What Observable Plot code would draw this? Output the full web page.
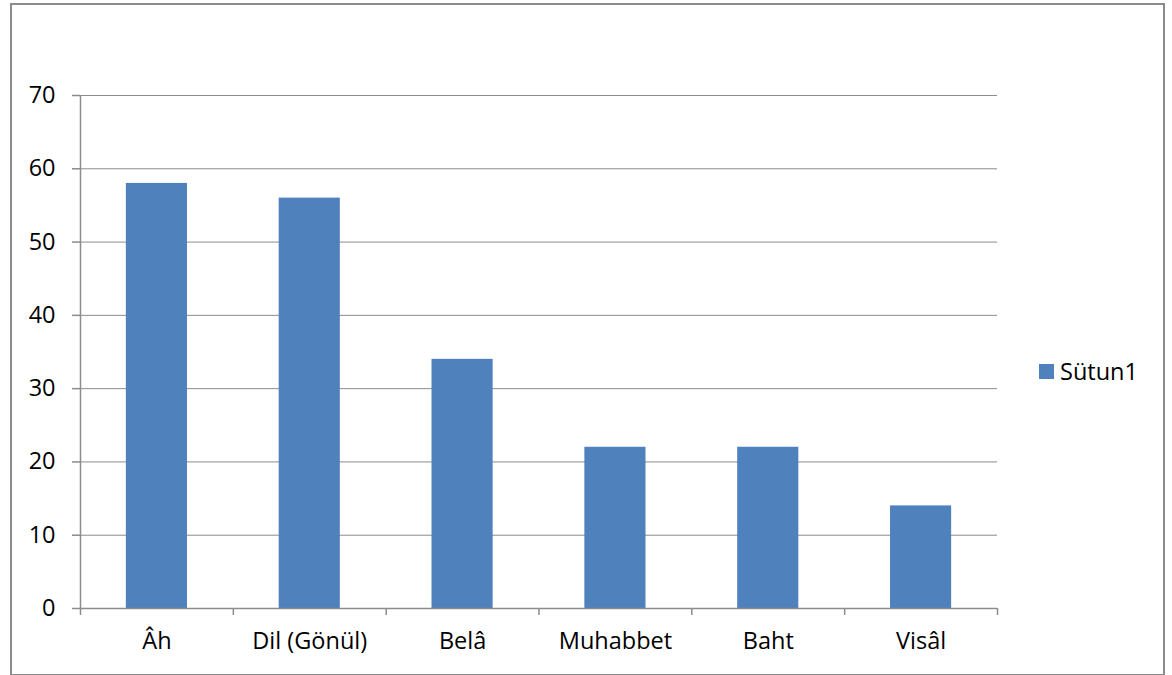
<!DOCTYPE html>
<html>
<head>
<meta charset="utf-8">
<script src="https://cdn.jsdelivr.net/npm/d3@7"></script>
<script src="https://cdn.jsdelivr.net/npm/@observablehq/plot@0.6"></script>
<style>
  html, body { margin: 0; padding: 0; background: #fff; }
  #wrap { position: relative; width: 1172px; height: 675px; overflow: hidden; font-family: "Open Sans", sans-serif; }
  #border { position: absolute; left: 10px; top: 3px; width: 1151px; height: 669px; border: 2px solid #8c8c8c; box-sizing: content-box; }
  #chart { position: absolute; left: 0; top: 0; }
  #legend { position: absolute; left: 1039px; top: 356px; height: 30px; display: flex; align-items: center; font-size: 23.5px; color: #000; line-height: 30px; }
  #legend .sw { width: 15px; height: 15px; background: #4F81BD; margin-right: 6px; }
</style>
</head>
<body>
<div id="wrap">
  <div id="border"></div>
  <div id="chart"></div>
  <div id="legend"><div class="sw"></div><span id="legendLabel"></span></div>
</div>
<script>
const categories = ["Âh", "Dil (Gönül)", "Belâ", "Muhabbet", "Baht", "Visâl"];
const values = [58, 56, 34, 22, 22, 14];
const seriesName = "Sütun1";
const yTicks = [0, 10, 20, 30, 40, 50, 60, 70];

const data = categories.map((c, i) => ({category: c, value: values[i]}));
document.getElementById("legendLabel").textContent = seriesName;

const W = 1172, H = 675;
const mL = 80, mR = 175, mT = 95, mB = 67;
const step = (W - mL - mR) / categories.length;
const gray = "#8c8c8c";
const fs = 23.5;

const chart = Plot.plot({
  width: W,
  height: H,
  marginLeft: mL,
  marginRight: mR,
  marginTop: mT,
  marginBottom: mB,
  style: {fontFamily: "'Open Sans', sans-serif", fontSize: fs + "px", color: "#000", background: "transparent"},
  x: {domain: categories, paddingInner: 0.6, paddingOuter: 0.3, align: 0.5, round: false},
  y: {domain: [0, 70]},
  marks: [
    Plot.gridY(yTicks.filter(t => t > 0), {stroke: gray, strokeOpacity: 1, strokeWidth: 1}),
    Plot.barY(data, {x: "category", y: "value", fill: "#4F81BD"}),
    Plot.ruleX([0], {x: () => categories[0], dx: -step / 2, stroke: gray, strokeWidth: 1.5}),
    Plot.ruleY([0], {stroke: gray, strokeWidth: 1.5}),
    Plot.axisY({ticks: yTicks, tickSize: 8, tickPadding: 17, tickFormat: d => String(d), stroke: gray, strokeWidth: 1.5, label: null, fontSize: fs}),
    Plot.axisX({text: null, tickSize: 7, dx: -step / 2, stroke: gray, strokeWidth: 1.5, label: null}),
    Plot.axisX({ticks: [categories[categories.length - 1]], text: null, tickSize: 7, dx: step / 2, stroke: gray, strokeWidth: 1.5, label: null}),
    Plot.axisX({tickSize: 0, tickPadding: 24, label: null, fontSize: fs})
  ]
});
document.getElementById("chart").appendChild(chart);
</script>
</body>
</html>
